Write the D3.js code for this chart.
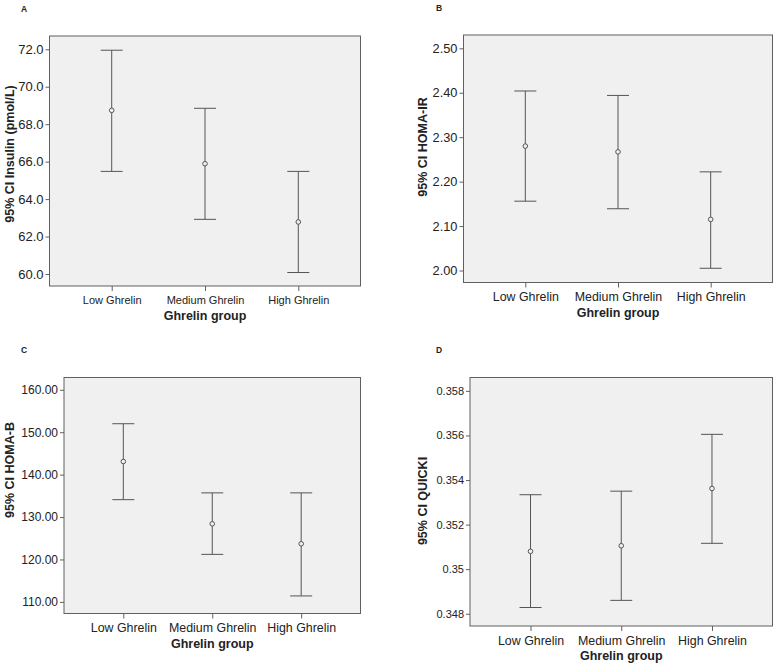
<!DOCTYPE html>
<html>
<head>
<meta charset="utf-8">
<script src="https://cdn.jsdelivr.net/npm/d3@7"></script>
<style>
  body { margin: 0; background: #fff; }
  svg { display: block; font-family: "Liberation Sans", Arial, sans-serif; }
</style>
</head>
<body>
<div id="vis"></div>
<script>
// Grupos de ghrelina (eje X comun)
const GRUPOS = ["Low Ghrelin", "Medium Ghrelin", "High Ghrelin"];

// A - Insulina
const insulinaMedia = [68.74, 65.89, 62.78];
const insulinaInf = [65.48, 62.92, 60.08];
const insulinaSup = [71.95, 68.85, 65.48];
const insulinaTicks = [60, 62, 64, 66, 68, 70, 72];
const insulinaLabels = ["60.0", "62.0", "64.0", "66.0", "68.0", "70.0", "72.0"];

// B - HOMA-IR
const homaIrMedia = [2.280, 2.267, 2.115];
const homaIrInf = [2.156, 2.139, 2.005];
const homaIrSup = [2.404, 2.394, 2.222];
const homaIrTicks = [2.0, 2.1, 2.2, 2.3, 2.4, 2.5];
const homaIrLabels = ["2.00", "2.10", "2.20", "2.30", "2.40", "2.50"];

// C - HOMA-B
const homaBMedia = [143.1, 128.4, 123.7];
const homaBInf = [134.1, 121.2, 111.4];
const homaBSup = [152.0, 135.7, 135.7];
const homaBTicks = [110, 120, 130, 140, 150, 160];
const homaBLabels = ["110.00", "120.00", "130.00", "140.00", "150.00", "160.00"];

// D - QUICKI
const quickiMedia = [0.35080, 0.35105, 0.35362];
const quickiInf = [0.34828, 0.34860, 0.35116];
const quickiSup = [0.35334, 0.35350, 0.35605];
const quickiTicks = [0.348, 0.350, 0.352, 0.354, 0.356, 0.358];
const quickiLabels = ["0.348", "0.35", "0.352", "0.354", "0.356", "0.358"];

const WIDTH = 778;
const HEIGHT = 668;
const COLOR_MARCO = "#606060";
const COLOR_BARRA = "#555";
const FONDO = "#f0f0f0";
const CAP = 22; // ancho del "bigote"

const SVG = d3.select("#vis").append("svg")
    .attr("width", WIDTH).attr("height", HEIGHT);

// cada panel: marco (x0,x1,y0,y1), dominio Y y ajustes de texto
const paneles = [
    { letra: "A", lx: 21, ly: 12, x0: 49.5, x1: 360.5, y0: 36, y1: 286, dom: [59.36, 72.71],
      media: insulinaMedia, inf: insulinaInf, sup: insulinaSup, ticks: insulinaTicks, labels: insulinaLabels,
      titulo: "95% CI Insulin (pmol/L)", tx: 9.5, ty: 154, fy: 13, fx: 11 },
    { letra: "B", lx: 436, ly: 11, x0: 463.5, x1: 772.5, y0: 35, y1: 282.5, dom: [1.973, 2.530],
      media: homaIrMedia, inf: homaIrInf, sup: homaIrSup, ticks: homaIrTicks, labels: homaIrLabels,
      titulo: "95% CI HOMA-IR", tx: 422.5, ty: 147, fy: 12.8, fx: 12.4 },
    { letra: "C", lx: 21, ly: 353, x0: 64, x1: 360.5, y0: 377.5, y1: 613.5, dom: [107.26, 162.9],
      media: homaBMedia, inf: homaBInf, sup: homaBSup, ticks: homaBTicks, labels: homaBLabels,
      titulo: "95% CI HOMA-B", tx: 9, ty: 470, fy: 12, fx: 12.4 },
    { letra: "D", lx: 436, ly: 353, x0: 470, x1: 772.5, y0: 377.5, y1: 626, dom: [0.34745, 0.3586],
      media: quickiMedia, inf: quickiInf, sup: quickiSup, ticks: quickiTicks, labels: quickiLabels,
      titulo: "95% CI QUICKI", tx: 422.5, ty: 501, fy: 11, fx: 12.4 },
];

paneles.forEach(p => {
    const g = SVG.append("g");

    const x = d3.scalePoint().domain(GRUPOS).range([p.x0, p.x1]).padding(0.667);
    const y = d3.scaleLinear().domain(p.dom).range([p.y1, p.y0]);

    // fondo del area de grafico
    g.append("rect")
        .attr("x", p.x0).attr("y", p.y0)
        .attr("width", p.x1 - p.x0).attr("height", p.y1 - p.y0)
        .attr("fill", FONDO).attr("stroke", COLOR_MARCO).attr("stroke-width", 1);

    // eje Y
    const ejeY = g.append("g")
        .attr("transform", `translate(${p.x0},0)`)
        .call(d3.axisLeft(y).tickValues(p.ticks)
            .tickFormat((d, i) => p.labels[i]).tickSize(4).tickPadding(2));
    ejeY.select(".domain").remove();
    ejeY.selectAll("line").attr("stroke", COLOR_MARCO);
    ejeY.selectAll("text").attr("fill", "#222").style("font-size", p.fy + "px")
        .style("font-family", "'Liberation Sans', Arial, sans-serif");

    // eje X
    const ejeX = g.append("g")
        .attr("transform", `translate(0,${p.y1})`)
        .call(d3.axisBottom(x).tickSize(5).tickPadding(5));
    ejeX.select(".domain").remove();
    ejeX.selectAll("line").attr("stroke", COLOR_MARCO);
    ejeX.selectAll("text").attr("fill", "#222").style("font-size", p.fx + "px")
        .style("font-family", "'Liberation Sans', Arial, sans-serif");

    const datos = GRUPOS.map((gr, i) => ({ grupo: gr, media: p.media[i], inf: p.inf[i], sup: p.sup[i] }));

    // barras de error con data-join
    const barras = g.selectAll("g.barra")
        .data(datos)
        .join("g")
        .attr("class", "barra");

    barras.append("line")
        .attr("x1", d => x(d.grupo)).attr("x2", d => x(d.grupo))
        .attr("y1", d => y(d.inf)).attr("y2", d => y(d.sup))
        .attr("stroke", COLOR_BARRA).attr("stroke-width", 1);
    barras.append("line")
        .attr("x1", d => x(d.grupo) - CAP / 2).attr("x2", d => x(d.grupo) + CAP / 2)
        .attr("y1", d => y(d.sup)).attr("y2", d => y(d.sup))
        .attr("stroke", COLOR_BARRA).attr("stroke-width", 1);
    barras.append("line")
        .attr("x1", d => x(d.grupo) - CAP / 2).attr("x2", d => x(d.grupo) + CAP / 2)
        .attr("y1", d => y(d.inf)).attr("y2", d => y(d.inf))
        .attr("stroke", COLOR_BARRA).attr("stroke-width", 1);
    barras.append("circle")
        .attr("cx", d => x(d.grupo)).attr("cy", d => y(d.media))
        .attr("r", 2.3)
        .attr("fill", FONDO).attr("stroke", COLOR_BARRA).attr("stroke-width", 1);

    // titulos de ejes
    g.append("text")
        .attr("x", (p.x0 + p.x1) / 2).attr("y", p.y1 + 34)
        .attr("text-anchor", "middle")
        .style("font-size", "12.5px").style("font-weight", "bold").attr("fill", "#222")
        .text("Ghrelin group");

    g.append("text")
        .attr("transform", `translate(${p.tx + 4.5},${p.ty}) rotate(-90)`)
        .attr("text-anchor", "middle")
        .style("font-size", "12.5px").style("font-weight", "bold").attr("fill", "#222")
        .text(p.titulo);

    // letra del panel
    g.append("text")
        .attr("x", p.lx).attr("y", p.ly)
        .style("font-size", "8.5px").style("font-weight", "bold").attr("fill", "#222")
        .text(p.letra);
});
</script>
</body>
</html>
